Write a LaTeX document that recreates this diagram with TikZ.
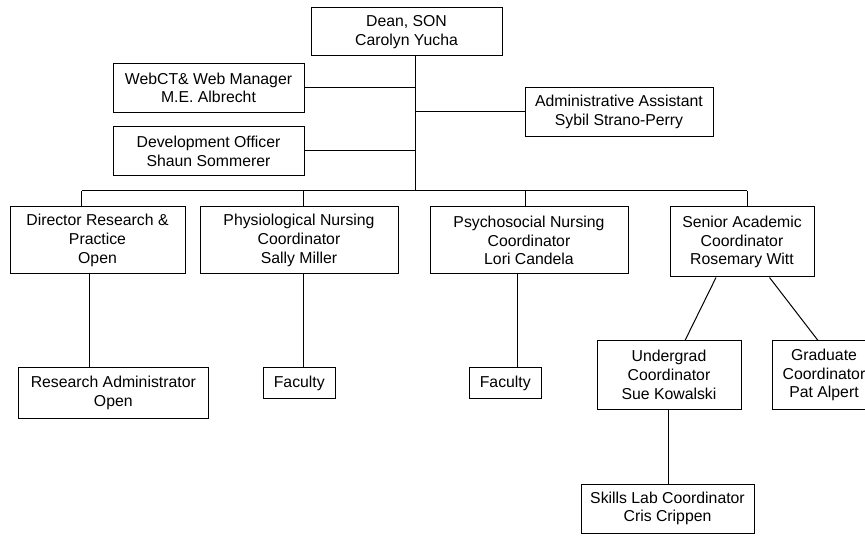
\documentclass[tikz,border=0pt]{standalone}
\usepackage{fontspec}
\setmainfont{Liberation Sans}
\usetikzlibrary{positioning, calc}

\begin{document}
\begin{tikzpicture}[x=1pt, y=-1pt,
    box/.style={draw, line width=1pt, align=center, inner sep=0pt, font=\fontsize{15.8}{18.8}\selectfont},
    link/.style={line width=1pt}]
    \useasboundingbox (0,0) rectangle (865,537);
    \clip (0,0) rectangle (865,537);

    % top of the chart
    \node[box, minimum width=191pt, minimum height=48pt] (dean) at (406.5, 32) {Dean, SON\\Carolyn Yucha};
    \node[box, minimum width=191pt, minimum height=49pt] (webct) at (208.5, 87.8) {WebCT\& Web Manager\\M.E. Albrecht};
    \node[box, minimum width=188pt, minimum height=49pt] (admin) at (619, 111.7) {Administrative Assistant\\Sybil Strano-Perry};
    \node[box, minimum width=191pt, minimum height=49pt] (devel) at (208.5, 151) {Development Officer\\Shaun Sommerer};

    % second row
    \node[box, minimum width=175pt, minimum height=67pt] (dir) at (97.5, 240.5) {Director Research \&\\Practice\\Open};
    \node[box, minimum width=198pt, minimum height=67pt] (physio) at (299, 240.5) {Physiological Nursing\\Coordinator\\Sally Miller};
    \node[box, minimum width=198pt, minimum height=67pt] (psycho) at (529, 240.5) {Psychosocial Nursing\\Coordinator\\Lori Candela};
    \node[box, minimum width=144pt, minimum height=70pt] (senior) at (742, 242) {Senior Academic\\Coordinator\\Rosemary Witt};

    % lower rows
    \node[box, minimum width=189.5pt, minimum height=51.5pt] (resadm) at (113.3, 393) {Research Administrator\\Open};
    \node[box, minimum width=71.5pt, minimum height=31.5pt] (fac1) at (299.3, 383) {Faculty};
    \node[box, minimum width=71.5pt, minimum height=31.5pt] (fac2) at (505.3, 383) {Faculty};
    \node[box, minimum width=144pt, minimum height=68pt] (under) at (669, 375) {Undergrad\\Coordinator\\Sue Kowalski};
    \node[box, minimum width=104pt, minimum height=68pt] (grad) at (824, 375) {Graduate\\Coordinator\\Pat Alpert};
    \node[box, minimum width=173pt, minimum height=49pt] (skills) at (667.5, 508.5) {Skills Lab Coordinator\\Cris Crippen};

    % trunk and bus
    \coordinate (trunk) at (415, 190.7);
    \draw[link] (dean.south -| trunk) -- (trunk);
    \draw[link] (webct.east) -- (webct.east -| trunk);
    \draw[link] (admin.west) -- (admin.west -| trunk);
    \draw[link] (devel.east) -- (devel.east -| trunk);
    \draw[link] ([xshift=-16pt]dir.north |- trunk) -- ([xshift=5pt]senior.north |- trunk);
    \foreach \n/\dx in {dir/-16, physio/4, psycho/-4, senior/5}
        \draw[link] ([xshift=\dx pt]\n.north) -- ([xshift=\dx pt]\n.north |- trunk);

    % links down
    \foreach \a/\b/\dx in {dir/resadm/-8.5, physio/fac1/4.5, psycho/fac2/-12, under/skills/-1}
        \draw[link] ([xshift=\dx pt]\a.south) -- ([xshift=\dx pt]\a.south |- \b.north);
    \draw[link] ([xshift=-26pt]senior.south) -- ([xshift=16pt]under.north);
    \draw[link] ([xshift=27.5pt]senior.south) -- ([xshift=-6pt]grad.north);
\end{tikzpicture}
\end{document}
